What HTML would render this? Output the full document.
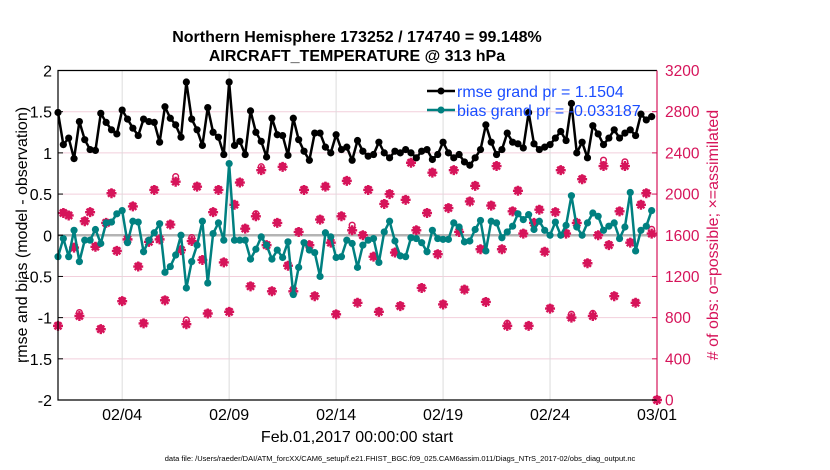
<!DOCTYPE html>
<html><head><meta charset="utf-8"><style>
body{margin:0;background:#fff;}
svg{display:block;font-family:"Liberation Sans",sans-serif;}
</style></head><body>
<svg id="chart" width="830" height="470" viewBox="0 0 830 470">
<text x="357" y="42" text-anchor="middle" font-size="16" font-weight="bold">Northern Hemisphere 173252 / 174740 = 99.148%</text>
<text x="357" y="61" text-anchor="middle" font-size="16" font-weight="bold">AIRCRAFT_TEMPERATURE @ 313 hPa</text>
<g id="grid"></g>
<g id="marks"></g>
<g id="axes"></g>
<text transform="translate(27,235) rotate(-90)" text-anchor="middle" font-size="16">rmse and bias (model - observation)</text>
<text transform="translate(718,235) rotate(-90)" text-anchor="middle" font-size="16" fill="#d6145a"># of obs: o=possible; ×=assimilated</text>
<text x="357" y="442" text-anchor="middle" font-size="16">Feb.01,2017 00:00:00 start</text>
<text x="400" y="461" text-anchor="middle" font-size="7.5">data file: /Users/raeder/DAI/ATM_forcXX/CAM6_setup/f.e21.FHIST_BGC.f09_025.CAM6assim.011/Diags_NTrS_2017-02/obs_diag_output.nc</text>
<g>
<line x1="427" y1="91" x2="455" y2="91" stroke="#000" stroke-width="2.5"/>
<circle cx="441" cy="91" r="3.5" fill="#000"/>
<text x="457" y="97" font-size="16" fill="#1a4dff">rmse grand pr = 1.1504</text>
<line x1="427" y1="110" x2="455" y2="110" stroke="#008080" stroke-width="2.5"/>
<circle cx="441" cy="110" r="3.5" fill="#008080"/>
<text x="457" y="116" font-size="16" fill="#1a4dff">bias grand pr = -0.033187</text>
</g>
</svg>
<script>
const rmse=[1.49,1.10,1.18,0.93,1.38,1.16,1.04,1.03,1.48,1.37,1.28,1.23,1.52,1.41,1.30,1.21,1.41,1.38,1.37,1.13,1.56,1.42,1.34,1.19,1.86,1.41,1.28,1.09,1.55,1.25,1.19,0.98,1.86,1.09,1.14,0.98,1.51,1.25,1.14,0.95,1.42,1.22,1.21,0.97,1.42,1.16,1.02,0.91,1.24,1.24,1.07,1.00,1.22,1.04,1.07,0.91,1.15,1.02,0.96,0.98,1.13,1.00,0.94,1.02,1.00,1.04,1.00,0.94,1.02,1.04,0.92,0.98,1.13,1.00,0.94,0.98,0.89,0.85,0.94,1.04,1.34,1.13,0.98,1.04,1.24,1.13,1.11,1.06,1.49,1.11,1.04,1.07,1.10,1.18,1.26,1.15,1.60,1.00,1.13,0.94,1.33,1.23,1.10,1.18,1.28,1.18,1.24,1.28,1.21,1.47,1.40,1.44];
const bias=[-0.26,-0.04,-0.26,0.06,-0.32,-0.06,-0.06,0.07,-0.10,0.15,0.16,0.26,0.30,-0.09,0.17,0.16,-0.20,-0.06,0.03,0.14,-0.45,-0.38,-0.24,0.00,-0.64,-0.32,-0.12,0.17,-0.58,0.02,0.15,-0.06,0.87,-0.06,-0.06,-0.06,-0.29,-0.17,-0.02,-0.12,-0.29,-0.18,-0.27,-0.08,-0.72,-0.39,-0.09,-0.18,-0.21,-0.50,0.03,-0.02,-0.27,-0.26,-0.06,-0.10,-0.39,-0.12,-0.06,-0.04,-0.33,0.04,0.17,-0.07,-0.25,-0.26,-0.03,-0.04,-0.09,-0.20,0.06,-0.04,-0.05,-0.05,0.15,0.10,-0.08,-0.07,0.07,0.18,-0.19,0.17,0.15,-0.03,0.04,0.11,0.26,0.19,0.25,0.07,0.17,0.06,0.00,0.16,0.00,0.12,0.48,0.10,0.00,0.15,0.27,0.23,0.06,0.11,0.15,-0.04,0.10,0.52,-0.19,0.06,0.11,0.30];
const nAssim=[720,1816,1792,1480,816,1736,1824,1488,688,1720,2008,1448,960,1560,1880,1296,744,1536,2040,1560,968,1704,2120,1456,736,1544,2072,1360,840,1824,2040,1336,856,1896,2112,1664,1104,1784,2232,1504,1056,1720,2264,1304,1056,1632,2040,1504,1008,1752,2072,1528,832,1784,2128,1648,944,1600,2040,1392,856,1904,2000,1432,912,1944,2304,1648,1088,1816,2208,1416,928,1864,2232,1632,1072,1928,2080,1464,952,1888,2272,1464,720,1832,2032,1616,720,1720,1848,1440,888,1824,2232,1616,800,1720,2144,1328,816,1600,2272,1504,1008,1832,2272,1528,944,1896,2008,1616,0];
const nPoss=[720,1816,1792,1480,840,1736,1824,1488,688,1720,2008,1448,960,1560,1880,1296,744,1536,2040,1560,968,1704,2160,1456,768,1568,2072,1360,840,1824,2040,1336,856,1896,2112,1664,1104,1800,2256,1504,1056,1720,2264,1304,1072,1632,2040,1504,1008,1752,2072,1528,832,1784,2128,1688,944,1600,2040,1392,856,1904,2000,1432,912,1944,2304,1648,1088,1816,2208,1416,928,1864,2232,1632,1072,1928,2080,1464,952,1888,2272,1464,736,1832,2032,1616,720,1720,1848,1440,888,1824,2232,1616,824,1720,2144,1328,832,1600,2320,1504,1008,1832,2304,1528,944,1896,2008,1648,0];
const xTickDays=[3,8,13,18,23,28];
const xTickLabels=["02/04","02/09","02/14","02/19","02/24","03/01"];
const yTicks=[-2,-1.5,-1,-0.5,0,0.5,1,1.5,2];
const yTickLabels=["-2","-1.5","-1","-0.5","0","0.5","1","1.5","2"];
const rTicks=[0,400,800,1200,1600,2000,2400,2800,3200];

const L=58,R=657,T=70.5,B=400;
const X=d=>L+d/28*(R-L);
const Y=v=>B-(v+2)/4*(B-T);
const YR=n=>B-n/3200*(B-T);
const NS="http://www.w3.org/2000/svg";
function mk(tag,attrs,parent){const e=document.createElementNS(NS,tag);for(const k in attrs)e.setAttribute(k,attrs[k]);parent.appendChild(e);return e;}
const grid=document.getElementById('grid'),marks=document.getElementById('marks'),axes=document.getElementById('axes');

yTicks.forEach((v,i)=>{
  const g=mk('line',{x1:L,x2:R,y1:Y(v),y2:Y(v),stroke:'#f2cfdc','stroke-width':1},grid);
  
  
  const t=mk('line',{x1:L,x2:L+5,y1:Y(v),y2:Y(v),stroke:'#000'},axes);
  
  
  const lb=mk('text',{x:L-6,y:Y(v)+6,'text-anchor':'end','font-size':16},axes);
  lb.textContent=yTickLabels[i];
  
  
});
rTicks.forEach(n=>{
  const t=mk('line',{x1:R-5,x2:R,y1:YR(n),y2:YR(n),stroke:'#d6145a'},axes);
  
  
  const lb=mk('text',{x:665,y:YR(n)+5.5,'font-size':15.5,fill:'#d6145a'},axes);
  lb.textContent=String(n);
  
  
});
xTickDays.forEach((d,i)=>{
  const g=mk('line',{x1:X(d),x2:X(d),y1:T,y2:B,stroke:'#dcdcdc','stroke-width':1},grid);
  
  
  const lb=mk('text',{x:X(d),y:420,'text-anchor':'middle','font-size':16},axes);
  lb.textContent=xTickLabels[i];
  
  
});
const zl=mk('line',{x1:L,x2:R,y1:Y(0),y2:Y(0),stroke:'#b4b4b4','stroke-width':2.5},grid);



nPoss.forEach((n,i)=>{
  const c=mk('circle',{cx:X(i*0.25),cy:YR(n)-1,r:2.8,fill:'none',stroke:'#d6145a','stroke-width':1.5},marks);
  
  
});
nAssim.forEach((n,i)=>{
  const x=X(i*0.25),y=YR(n);
  const c=mk('path',{d:`M${x-5},${y}L${x+5},${y}M${x},${y-5}L${x},${y+5}M${x-3.5},${y-3.5}L${x+3.5},${y+3.5}M${x-3.5},${y+3.5}L${x+3.5},${y-3.5}`,stroke:'#d6145a','stroke-width':2.4},marks);
  
  
  const d=mk('circle',{cx:x,cy:y,r:3.3,fill:'#d6145a'},marks);
  
  
});
function series(arr,color,name){
  const p=mk('polyline',{points:arr.map((v,i)=>X(i*0.25)+','+Y(v)).join(' '),fill:'none',stroke:color,'stroke-width':2.5,'stroke-linejoin':'round'},marks);
  
  
  arr.forEach((v,i)=>{
    const c=mk('circle',{cx:X(i*0.25),cy:Y(v),r:3.6,fill:color},marks);
    
    
  });
}
series(bias,'#008080','bias');
series(rmse,'#000000','rmse');

const fr=mk('path',{d:`M${R},${T}L${L},${T}L${L},${B}L${R},${B}`,fill:'none',stroke:'#000','stroke-width':1.2},axes);


const ra=mk('line',{x1:R,x2:R,y1:T,y2:B,stroke:'#d6145a','stroke-width':1.2},axes);


</script>
</body></html>
